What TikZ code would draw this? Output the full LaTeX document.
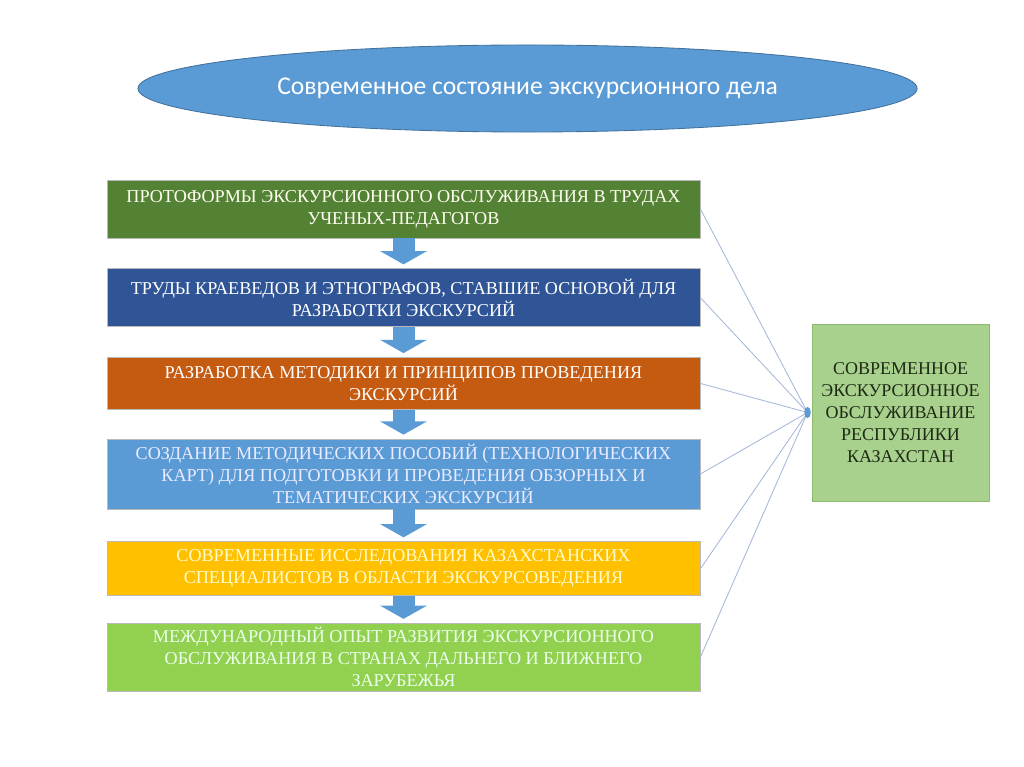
\documentclass[tikz,border=0pt]{standalone}
\usepackage{fontspec}
\setmainfont{Liberation Serif}
\newfontfamily\titlefont{Carlito}
\usepackage{xcolor}
\usetikzlibrary{arrows.meta,positioning,shapes.geometric}

\definecolor{ovalblue}{HTML}{5B9BD5}
\definecolor{ovaledge}{HTML}{41719C}
\definecolor{stageA}{HTML}{548235}
\definecolor{stageB}{HTML}{2F5597}
\definecolor{stageC}{HTML}{C55A11}
\definecolor{stageD}{HTML}{5B9BD5}
\definecolor{stageE}{HTML}{FFC000}
\definecolor{stageF}{HTML}{92D050}
\definecolor{resfill}{HTML}{A9D18E}
\definecolor{resedge}{HTML}{8DBB6C}
\definecolor{restext}{HTML}{1F2A14}
\definecolor{linkblue}{HTML}{A5B8DA}

\begin{document}
\begin{tikzpicture}[
  x=0.025cm, y=-0.025cm,
  font=\fontsize{12.9}{15.6}\selectfont,
  stage/.style={rectangle, draw=gray!55, line width=0.5pt, minimum width=14.825cm, text=white, align=center, inner sep=2pt},
  downarr/.style={draw=ovalblue, line width=0.55cm, -{Triangle[length=0.33cm, width=1.15cm]}},
  link/.style={draw=linkblue, line width=0.6pt}
]
  \useasboundingbox[fill=white] (0,0) rectangle (1024,767);

  \node[ellipse, draw=ovaledge, line width=0.6pt, fill=ovalblue, minimum width=19.475cm, minimum height=2.175cm, text=white, font=\titlefont\fontsize{18.2}{22}\selectfont] (title) at (527.5,88.5) {Современное состояние экскурсионного дела};

  \node[stage, fill=stageA, minimum height=1.45cm, text=white!94!yellow] (protoforms) at (403.5,209) {ПРОТОФОРМЫ ЭКСКУРСИОННОГО ОБСЛУЖИВАНИЯ В ТРУДАХ\\УЧЕНЫХ-ПЕДАГОГОВ};
  \node[stage, fill=stageB, minimum height=1.45cm, below=0.75cm of protoforms] (works) {ТРУДЫ КРАЕВЕДОВ И ЭТНОГРАФОВ, СТАВШИЕ ОСНОВОЙ ДЛЯ\\РАЗРАБОТКИ ЭКСКУРСИЙ};
  \node[stage, fill=stageC, minimum height=1.3cm, below=0.75cm of works] (method) {РАЗРАБОТКА МЕТОДИКИ И ПРИНЦИПОВ ПРОВЕДЕНИЯ\\ЭКСКУРСИЙ};
  \node[stage, fill=stageD, minimum height=1.75cm, below=0.72cm of method, text=white!92!blue] (manuals) {СОЗДАНИЕ МЕТОДИЧЕСКИХ ПОСОБИЙ (ТЕХНОЛОГИЧЕСКИХ\\КАРТ) ДЛЯ ПОДГОТОВКИ И ПРОВЕДЕНИЯ ОБЗОРНЫХ И\\ТЕМАТИЧЕСКИХ ЭКСКУРСИЙ};
  \node[stage, fill=stageE, minimum height=1.35cm, below=0.8cm of manuals, text=yellow!20!white] (research) {СОВРЕМЕННЫЕ ИССЛЕДОВАНИЯ КАЗАХСТАНСКИХ\\СПЕЦИАЛИСТОВ В ОБЛАСТИ ЭКСКУРСОВЕДЕНИЯ};
  \node[stage, fill=stageF, minimum height=1.7cm, below=0.67cm of research, text=white!92!green] (abroad) {МЕЖДУНАРОДНЫЙ ОПЫТ РАЗВИТИЯ ЭКСКУРСИОННОГО\\ОБСЛУЖИВАНИЯ В СТРАНАХ ДАЛЬНЕГО И БЛИЖНЕГО\\ЗАРУБЕЖЬЯ};

  \foreach \a/\b in {protoforms/works, works/method, method/manuals, manuals/research, research/abroad}
    \draw[downarr] (\a.south) -- ([yshift=0.1cm]\b.north);

  \node[rectangle, draw=resedge, line width=0.6pt, fill=resfill, minimum width=4.425cm, minimum height=4.425cm, align=center, text=restext, font=\fontsize{12.8}{15.6}\selectfont] (kazakhstan) at (900.5,412.5) {СОВРЕМЕННОЕ\\ЭКСКУРСИОННОЕ\\ОБСЛУЖИВАНИЕ\\РЕСПУБЛИКИ\\КАЗАХСТАН};
  \coordinate (hub) at ([xshift=-0.1cm]kazakhstan.west);

  \foreach \s in {protoforms, works, method, manuals, research, abroad}
    \draw[link] (\s.east) -- (hub);
  \fill[ovalblue] (hub) ellipse [x radius=0.08cm, y radius=0.14cm];
\end{tikzpicture}
\end{document}
